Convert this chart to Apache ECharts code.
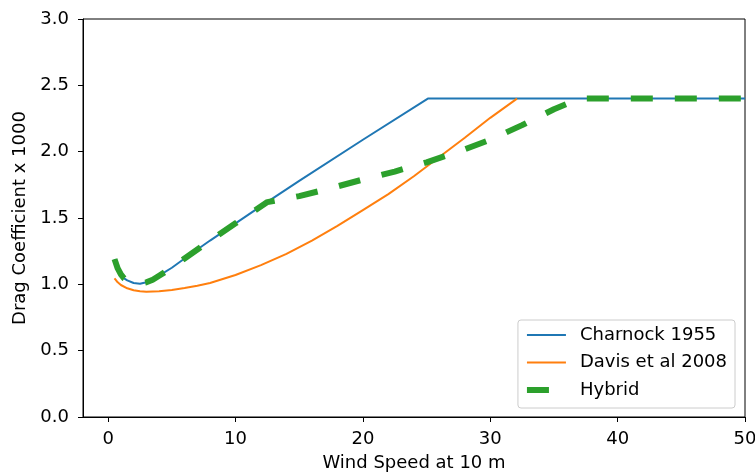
<!DOCTYPE html>
<html>
<head>
<meta charset="utf-8">
<script src="https://cdn.jsdelivr.net/npm/echarts@6/dist/echarts.min.js"></script>
<style>
html,body{margin:0;padding:0;background:#fff;}
#chart{width:755px;height:472px;}
</style>
</head>
<body>
<div id="chart"></div>
<script>
// Data
const charnockWind = [0.5, 0.75, 1, 1.25, 1.5, 2, 2.5, 3, 3.5, 4, 5, 6, 8, 10, 12, 15, 20, 25.1, 50];
const charnockCd   = [1.19, 1.12, 1.075, 1.045, 1.03, 1.01, 1.005, 1.015, 1.035, 1.065, 1.125, 1.195, 1.33, 1.46, 1.59, 1.78, 2.09, 2.4, 2.4];

const davisWind = [0.5, 0.75, 1, 1.5, 2, 2.5, 3, 4, 5, 6, 7, 8, 10, 12, 14, 16, 18, 20, 22, 24, 26, 28, 30, 32.1];
const davisCd   = [1.045, 1.015, 0.995, 0.97, 0.955, 0.948, 0.945, 0.948, 0.958, 0.972, 0.99, 1.01, 1.07, 1.145, 1.23, 1.33, 1.44, 1.56, 1.68, 1.815, 1.96, 2.105, 2.255, 2.4];

const hybridWind = [0.5, 0.75, 1, 1.25, 1.5, 2, 2.5, 3, 3.5, 4, 5, 6, 8, 10, 12.5, 15, 17.5, 20, 22.5, 25, 27.5, 30, 32.5, 35, 37, 50];
const hybridCd   = [1.19, 1.12, 1.075, 1.045, 1.03, 1.01, 1.005, 1.015, 1.035, 1.065, 1.125, 1.195, 1.33, 1.46, 1.62, 1.665, 1.725, 1.79, 1.85, 1.92, 2.0, 2.09, 2.2, 2.32, 2.4, 2.4];

const xTicks = [0, 10, 20, 30, 40, 50];
const yTicks = [0, 0.5, 1.0, 1.5, 2.0, 2.5, 3.0];

const seriesNames = ['Charnock 1955', 'Davis et al 2008', 'Hybrid'];
const xTitle = 'Wind Speed at 10 m';
const yTitle = 'Drag Coefficient x 1000';

const zip = (xs, ys) => xs.map((x, i) => [x, ys[i]]);

const FONT = 'DejaVu Sans';
const FS = 18;
const C = ['#1f77b4', '#ff7f0e', '#2ca02c'];
const chart = echarts.init(document.getElementById('chart'), null, {renderer: 'canvas'});
chart.setOption({
  animation: false,
  backgroundColor: '#ffffff',
  grid: {
    left: 83, right: 10, top: 19, bottom: 55,
    containLabel: false, outerBoundsMode: 'none',
    show: true, borderColor: '#000', borderWidth: 1, backgroundColor: 'transparent'
  },
  legend: {
    orient: 'vertical',
    right: 20, bottom: 64,
    data: [
      {name: seriesNames[0], lineStyle: {color: C[0], width: 2}},
      {name: seriesNames[1], lineStyle: {color: C[1], width: 2}},
      {name: seriesNames[2], lineStyle: {color: C[2], width: 6, type: [22, 22]}}
    ],
    itemStyle: {opacity: 0},
    itemWidth: 39, itemHeight: 14, itemGap: 9.5,
    padding: [6, 8, 9, 6],
    borderColor: '#cccccc', borderWidth: 1, borderRadius: 3,
    backgroundColor: 'rgba(255,255,255,0.8)',
    textStyle: {fontFamily: FONT, fontSize: FS, color: '#000', padding: [0, 0, 0, 9]}
  },
  xAxis: {
    type: 'value',
    min: -1.975, max: 50,
    name: xTitle, nameLocation: 'middle', nameGap: 37,
    nameTextStyle: {fontFamily: FONT, fontSize: FS, color: '#000'},
    axisLine: {show: true, onZero: false, lineStyle: {color: '#000', width: 1}},
    axisTick: {show: true, customValues: xTicks, length: 5, lineStyle: {color: '#000', width: 1}},
    axisLabel: {customValues: xTicks, margin: 13, fontFamily: FONT, fontSize: FS, color: '#000'},
    splitLine: {show: false}
  },
  yAxis: {
    type: 'value',
    min: 0, max: 3, interval: 0.5,
    name: yTitle, nameLocation: 'middle', nameGap: 54, nameRotate: 90,
    nameTextStyle: {fontFamily: FONT, fontSize: FS, color: '#000'},
    axisLine: {show: true, onZero: false, lineStyle: {color: '#000', width: 1}},
    axisTick: {show: true, length: 5, lineStyle: {color: '#000', width: 1}},
    axisLabel: {margin: 14, fontFamily: FONT, fontSize: FS, color: '#000',
      formatter: v => v.toFixed(1)},
    splitLine: {show: false}
  },
  series: [
    {
      name: seriesNames[0], type: 'line', symbol: 'none',
      data: zip(charnockWind, charnockCd),
      lineStyle: {color: C[0], width: 2},
      itemStyle: {color: C[0]}
    },
    {
      name: seriesNames[1], type: 'line', symbol: 'none',
      data: zip(davisWind, davisCd),
      lineStyle: {color: C[1], width: 2},
      itemStyle: {color: C[1]}
    },
    {
      name: seriesNames[2], type: 'line', symbol: 'none',
      data: zip(hybridWind, hybridCd),
      lineStyle: {color: C[2], width: 6, type: [22, 22], cap: 'butt'},
      itemStyle: {color: C[2]}
    }
  ]
});
</script>
</body>
</html>
